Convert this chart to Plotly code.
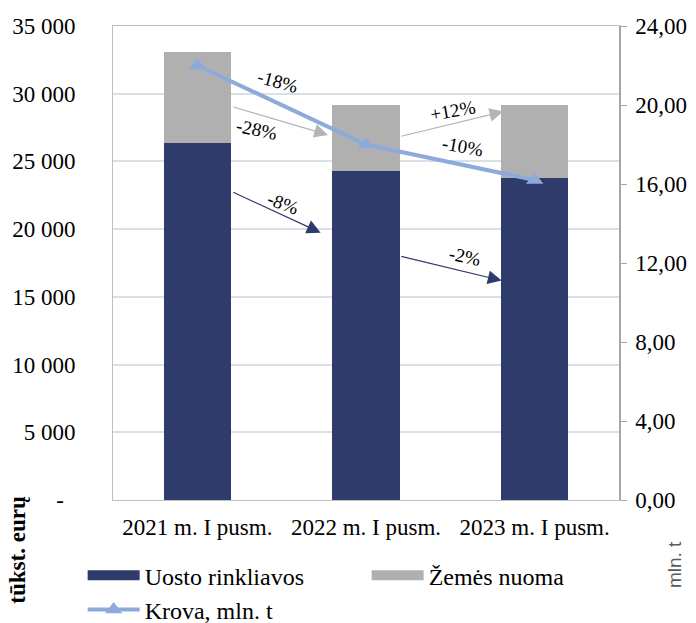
import plotly.graph_objects as go

categories = ["2021 m. I pusm.", "2022 m. I pusm.", "2023 m. I pusm."]
uosto_rinkliavos = [26380, 24330, 23750]   # tūkst. eurų
zemes_nuoma = [6720, 4810, 5400]            # tūkst. eurų
krova = [22.0, 18.0, 16.2]                  # mln. t

left_ticks = [0, 5000, 10000, 15000, 20000, 25000, 30000, 35000]
left_ticktext = ["-\u00a0\u00a0"] + [f"{v:,}".replace(",", " ") for v in left_ticks[1:]]
right_ticks = [0, 4, 8, 12, 16, 20, 24]

# change arrows: (colour, tail x, tail y, tip x, tip y)
change_arrows = [
    ("#b4b4b4", 0.204, 29050, 0.775, 26960),
    ("#2e3a6b", 0.204, 22770, 0.731, 19740),
    ("#b4b4b4", 1.200, 26830, 1.814, 28680),
    ("#2e3a6b", 1.200, 18020, 1.804, 16200),
]
change_labels = [
    ("-18%", 0.478, 30870, 15),
    ("-28%", 0.352, 27330, 12),
    ("+12%", 1.516, 28750, -10),
    ("-10%", 1.575, 26090, 10),
    ("-8%", 0.510, 21860, 20),
    ("-2%", 1.587, 17970, 12),
]

DARK = "#2e3b6b"
GRAY = "#b0b0b0"
LINE = "#8eaadb"
FONT = "Liberation Serif"

fig = go.Figure()
fig.add_trace(go.Bar(x=categories, y=uosto_rinkliavos, name="Uosto rinkliavos",
                     marker=dict(color=DARK, line=dict(width=0)),
                     legendgroup="u", showlegend=False))
fig.add_trace(go.Bar(x=categories, y=zemes_nuoma, name="Žemės nuoma",
                     marker=dict(color=GRAY, line=dict(width=0)),
                     legendgroup="z", showlegend=False))
fig.add_trace(go.Scatter(x=categories, y=krova, name="Krova, mln. t", yaxis="y2",
                         mode="lines+markers",
                         line=dict(color=LINE, width=4),
                         marker=dict(symbol="triangle-up", size=15, color=LINE),
                         legendgroup="k", showlegend=False))
# legend entries
fig.add_trace(go.Scatter(x=[None], y=[None], name="Uosto rinkliavos", mode="lines",
                         line=dict(color=DARK, width=14), legendgroup="u", legendrank=1))
fig.add_trace(go.Scatter(x=[None], y=[None], name="Žemės nuoma", mode="lines",
                         line=dict(color=GRAY, width=14), legendgroup="z", legendrank=2))
fig.add_trace(go.Scatter(x=[None], y=[None], name="Krova, mln. t", yaxis="y2",
                         mode="lines+markers", line=dict(color=LINE, width=4),
                         marker=dict(symbol="triangle-up", size=15, color=LINE),
                         legendgroup="k", legendrank=3))

annotations = []
for color, ax, ay, x, y in change_arrows:
    annotations.append(dict(x=x, y=y, ax=ax, ay=ay, xref="x", yref="y", axref="x", ayref="y",
                            text="", showarrow=True, arrowhead=2, arrowsize=2.3,
                            arrowwidth=1.2, arrowcolor=color, standoff=0, startstandoff=0))
for text, x, y, ang in change_labels:
    annotations.append(dict(x=x, y=y, xref="x", yref="y", text=text, showarrow=False,
                            textangle=ang, font=dict(family=FONT, size=19, color="black")))
annotations.append(dict(x=-0.188, y=-0.105, xref="paper", yref="paper", text="<b>tūkst. eurų</b>",
                        showarrow=False, textangle=-90, xanchor="center", yanchor="middle",
                        font=dict(family=FONT, size=23, color="black")))
annotations.append(dict(x=1.111, y=-0.137, xref="paper", yref="paper", text="mln. t",
                        showarrow=False, textangle=-90, xanchor="center", yanchor="middle",
                        font=dict(family="Liberation Sans", size=19, color="#595959")))

fig.update_layout(
    width=696, height=623,
    margin=dict(l=113, r=77, t=26, b=123, autoexpand=False),
    paper_bgcolor="white", plot_bgcolor="white",
    barmode="stack", bargap=0.6,
    separators=", ",
    font=dict(family=FONT, size=23, color="black"),
    xaxis=dict(showline=True, mirror=True, linecolor="#bfbfbf", linewidth=1,
               showgrid=False, ticks="", ticklabelstandoff=6,
               tickfont=dict(family=FONT, size=23, color="black")),
    yaxis=dict(range=[0, 35000], tickvals=left_ticks, ticktext=left_ticktext,
               showline=True, linecolor="#bfbfbf", linewidth=1,
               showgrid=True, gridcolor="#d9e0ea", gridwidth=1.5, zeroline=False,
               ticks="", ticklabelstandoff=32,
               tickfont=dict(family=FONT, size=23, color="black")),
    yaxis2=dict(range=[0, 24], tickvals=right_ticks, tickformat=".2f",
                overlaying="y", side="right", showline=True, linecolor="#a6a6a6",
                linewidth=1.5, showgrid=False, zeroline=False,
                ticks="outside", ticklen=6, tickcolor="#a6a6a6", ticklabelstandoff=4,
                tickfont=dict(family=FONT, size=23, color="black")),
    legend=dict(orientation="h", x=-0.06, y=-0.112, xanchor="left", yanchor="top",
                entrywidth=217, itemwidth=52, font=dict(family=FONT, size=24, color="black"),
                bgcolor="rgba(0,0,0,0)", traceorder="normal"),
    annotations=annotations,
)

fig.write_html("out.html", config={"displayModeBar": False},
               post_script="document.body.style.margin='0px';document.body.style.overflow='hidden';")
